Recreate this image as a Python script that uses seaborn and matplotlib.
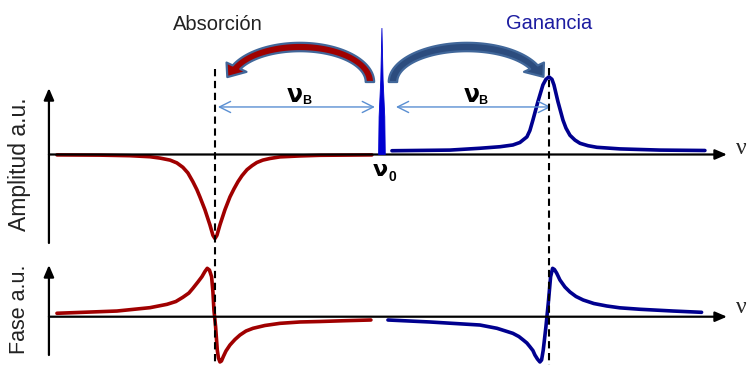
import matplotlib
matplotlib.use("Agg")
import numpy as np
import matplotlib.pyplot as plt
import matplotlib.transforms as mtransforms
from matplotlib.lines import Line2D
from matplotlib.patches import Polygon
import seaborn as sns

sns.set_theme(style="white")
plt.rcParams['font.family'] = ['Liberation Sans', 'DejaVu Sans']

# Frequencies in units of the Brillouin shift: pump at nu0, Stokes/anti-Stokes at -/+ nuB
nu0 = 0.0
nuB = 1.0

# Amplitude of the absorption (anti-Stokes) resonance
absorption_nu = [-1.946, -1.689, -1.509, -1.389, -1.329, -1.269, -1.228, -1.192, -1.162,
                 -1.132, -1.108, -1.090, -1.060, -1.030, -1.012, -1.000, -0.988, -0.970,
                 -0.940, -0.910, -0.886, -0.862, -0.838, -0.808, -0.778, -0.749, -0.713,
                 -0.671, -0.611, -0.491, -0.371, -0.060]
absorption_amp = [-0.005, -0.008, -0.015, -0.028, -0.045, -0.07, -0.105, -0.16, -0.23,
                  -0.34, -0.44, -0.53, -0.69, -0.88, -1.01, -1.05, -1.01, -0.88,
                  -0.69, -0.53, -0.43, -0.34, -0.265, -0.19, -0.14, -0.10, -0.07,
                  -0.05, -0.03, -0.018, -0.01, -0.005]

# Amplitude of the gain (Stokes) resonance
gain_nu = [0.060, 0.407, 0.587, 0.707, 0.784, 0.826, 0.868, 0.886, 0.904, 0.934, 0.964,
           0.982, 1.000, 1.018, 1.030, 1.054, 1.084, 1.102, 1.126, 1.156, 1.186, 1.234,
           1.287, 1.425, 1.665, 1.934]
gain_amp = [0.047, 0.055, 0.078, 0.097, 0.119, 0.15, 0.22, 0.30, 0.43, 0.66, 0.87,
            0.94, 0.97, 0.94, 0.87, 0.66, 0.43, 0.33, 0.24, 0.18, 0.14, 0.11,
            0.09, 0.07, 0.055, 0.05]

# Narrow pump line
pump_nu = [-0.020, -0.017, -0.007, 0.000, 0.007, 0.017, 0.020]
pump_amp = [0.0, 0.47, 0.93, 1.58, 0.93, 0.47, 0.0]

# Phase of the absorption resonance
absorption_phase_nu = [-1.946, -1.790, -1.587, -1.389, -1.287, -1.234, -1.192, -1.156,
                       -1.132, -1.102, -1.078, -1.060, -1.046, -1.033, -1.020, -1.012,
                       -1.006, -0.996, -0.986, -0.979, -0.970, -0.961, -0.950, -0.934,
                       -0.910, -0.880, -0.850, -0.814, -0.772, -0.701, -0.611, -0.491,
                       -0.371, -0.222, -0.066]
absorption_phase = [0.043, 0.055, 0.071, 0.113, 0.155, 0.19, 0.243, 0.296,
                    0.355, 0.434, 0.50, 0.565, 0.605, 0.584, 0.50, 0.309,
                    0.084, -0.125, -0.416, -0.516, -0.566, -0.554, -0.50, -0.429,
                    -0.354, -0.285, -0.229, -0.179, -0.145, -0.11, -0.083, -0.066,
                    -0.06, -0.05, -0.041]

# Phase of the gain resonance
gain_phase_nu = [0.036, 0.287, 0.587, 0.689, 0.784, 0.820, 0.846, 0.868, 0.886, 0.904,
                 0.916, 0.931, 0.946, 0.956, 0.966, 0.982, 0.996, 1.010, 1.022, 1.033,
                 1.046, 1.066, 1.096, 1.126, 1.162, 1.205, 1.269, 1.346, 1.425, 1.545,
                 1.744, 1.914]
gain_phase = [-0.041, -0.066, -0.104, -0.145, -0.208, -0.248, -0.291, -0.329, -0.375,
              -0.423, -0.479, -0.529, -0.566, -0.541, -0.416, -0.125, 0.168, 0.50,
              0.605, 0.59, 0.546, 0.459, 0.371, 0.309, 0.253, 0.209, 0.165, 0.134,
              0.111, 0.093, 0.071, 0.055]

RED = '#a00000'
BLUE = '#00008f'
TEXT_BLUE = '#1c1ca0'
ARROW_EDGE = '#41679a'
THIN_ARROW = '#5a8fd2'
NU_FONT = ['DejaVu Sans']

fig = plt.figure(figsize=(7.47, 3.65), dpi=100)
ax_a = fig.add_axes([0.0, 0.315, 1.0, 0.685])
ax_p = fig.add_axes([0.0, 0.0, 1.0, 0.315])
for ax in (ax_a, ax_p):
    ax.set_xlim(-2.287, 2.186)
    ax.set_axis_off()
ax_a.set_ylim(-1.194, 1.931)
ax_p.set_ylim(-0.604, 0.834)

# Axes drawn as arrows
axis_kw = dict(arrowstyle='-|>,head_length=0.7,head_width=0.3', color='black', lw=1.6,
               shrinkA=0, shrinkB=0, mutation_scale=10)
x_start, x_end = -1.994, 2.066
ax_a.annotate('', xy=(x_end, 0), xytext=(x_start, 0), arrowprops=axis_kw)
ax_a.annotate('', xy=(x_start, 0.83), xytext=(x_start, -1.106), arrowprops=axis_kw)
ax_p.annotate('', xy=(x_end, 0), xytext=(x_start, 0), arrowprops=axis_kw)
ax_p.annotate('', xy=(x_start, 0.646), xytext=(x_start, -0.479), arrowprops=axis_kw)

# Curves
line_kw = dict(lw=2.6, estimator=None, solid_joinstyle='round')
sns.lineplot(x=absorption_nu, y=absorption_amp, ax=ax_a, color=RED, **line_kw)
sns.lineplot(x=gain_nu, y=gain_amp, ax=ax_a, color=BLUE, **line_kw)
ax_a.fill(pump_nu, pump_amp, color='#0000d0', lw=0.6, zorder=3)
sns.lineplot(x=absorption_phase_nu, y=absorption_phase, ax=ax_p, color=RED, **line_kw)
sns.lineplot(x=gain_phase_nu, y=gain_phase, ax=ax_p, color=BLUE, **line_kw)

# Dashed markers at the two resonances, spanning both panels
blend = mtransforms.blended_transform_factory(ax_a.transData, fig.transFigure)
for nu_r, top in ((nu0 - nuB, 1 - 69 / 365), (nu0 + nuB, 1 - 68 / 365)):
    fig.add_artist(Line2D([nu_r, nu_r], [top, 0.0], transform=blend, color='black',
                          lw=1.5, ls=(0, (3.5, 2.2)), zorder=5))

# Frequency-shift arrows
thin_kw = dict(arrowstyle='<->,head_length=0.8,head_width=0.4', color=THIN_ARROW, lw=1.0,
               shrinkA=0, shrinkB=0, mutation_scale=10)
ax_a.annotate('', xy=(nu0 - nuB + 0.018, 0.594), xytext=(nu0 - 0.042, 0.594),
              arrowprops=thin_kw, zorder=6)
ax_a.annotate('', xy=(nu0 + nuB + 0.012, 0.594), xytext=(nu0 + 0.084, 0.594),
              arrowprops=thin_kw, zorder=6)


def curved_arrow(ax, tail_nu, far_nu, base_a, rise_px, face, end_deg=155,
                 half_w=4.2, head_w=11.0, head_l=13.5):
    """Half-ellipse block arrow from tail_nu arching over towards far_nu."""
    x0, y0 = ax.transData.transform((tail_nu, base_a))
    x1, _ = ax.transData.transform((far_nu, base_a))
    cx, rx = (x0 + x1) / 2, abs(x0 - x1) / 2
    sgn = 1.0 if x0 > x1 else -1.0
    th = np.radians(np.linspace(0, end_deg, 80))

    def ring(r_x, r_y, t):
        return np.column_stack([cx + sgn * r_x * np.cos(t), y0 + r_y * np.sin(t)])

    outer = ring(rx + half_w, rise_px + half_w, th)
    inner = ring(rx - half_w, rise_px - half_w, th)
    te = th[-1]
    end = ring(rx, rise_px, np.array([te]))[0]
    tang = np.array([-sgn * rx * np.sin(te), rise_px * np.cos(te)])
    tang /= np.hypot(*tang)
    out_dir = outer[-1] - inner[-1]
    out_dir /= np.hypot(*out_dir)
    tip = end + head_l * tang
    verts = np.vstack([outer, end + head_w * out_dir, tip, end - head_w * out_dir,
                       inner[::-1]])
    fig.add_artist(Polygon(verts, closed=True, transform=mtransforms.IdentityTransform(),
                           fc=face, ec=ARROW_EDGE, lw=1.6, joinstyle='round', zorder=4))


curved_arrow(ax_a, nu0 - 0.072, nu0 - nuB + 0.090, 0.906, 35, RED)
curved_arrow(ax_a, nu0 + 0.066, nu0 + nuB - 0.048, 0.906, 35, '#2c4c7e')

# Labels
ax_a.text(nu0 - nuB + 0.018, 1.556, 'Absorción', ha='center', va='baseline',
          fontsize=14.5, color='#222222')
ax_a.text(nu0 + nuB, 1.565, 'Ganancia', ha='center', va='baseline',
          fontsize=14.5, color=TEXT_BLUE)

for x_nu in (-0.52, 0.535):
    ax_a.annotate('ν', xy=(x_nu, 0.744), ha='center', va='center', fontsize=17,
                  fontweight='bold', color='black', family=NU_FONT)
    ax_a.annotate('B', xy=(x_nu, 0.744), xytext=(8.5, -4.5), textcoords='offset points',
                  ha='center', va='center', fontsize=9, fontweight='bold', color='black')

ax_a.annotate('ν', xy=(nu0 - 0.01, -0.19), ha='center', va='center', fontsize=16,
              fontweight='bold', color='black', family=NU_FONT)
ax_a.annotate('0', xy=(nu0 - 0.01, -0.19), xytext=(8.5, -5), textcoords='offset points',
              ha='center', va='center', fontsize=10, fontweight='bold', color='black')

ax_a.text(2.150, 0.08, 'ν', ha='center', va='center', fontsize=17,
          family=['Liberation Serif', 'DejaVu Serif'])
ax_p.text(2.150, 0.109, 'ν', ha='center', va='center', fontsize=17,
          family=['Liberation Serif', 'DejaVu Serif'])

ax_a.text(-2.168, -0.12, 'Amplitud a.u.', rotation=90, ha='center', va='center',
          fontsize=16.5, color='#222222')
ax_p.text(-2.168, 0.096, 'Fase a.u.', rotation=90, ha='center', va='center',
          fontsize=15.5, color='#222222')

fig.savefig('out.png', dpi=100, facecolor='white')
